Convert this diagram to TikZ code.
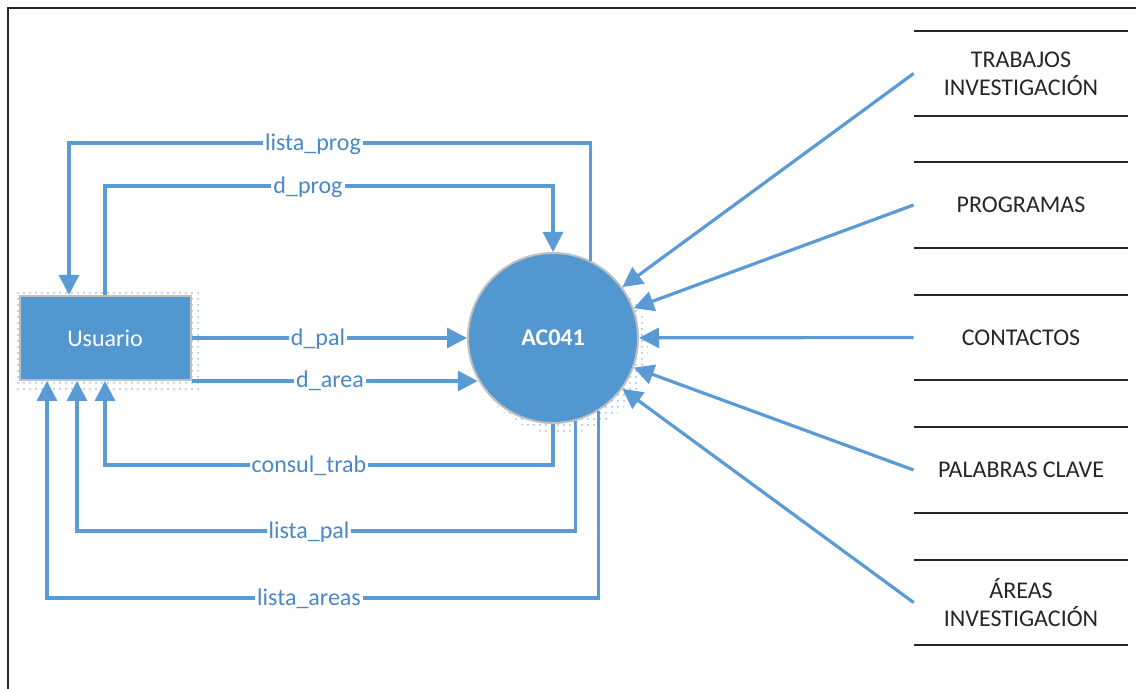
\documentclass[tikz,border=0pt]{standalone}
\usepackage{fontspec}
\setmainfont{Carlito}
\usepackage{tikz}
\usetikzlibrary{arrows.meta,positioning,calc,patterns,backgrounds}
\definecolor{flowblue}{HTML}{5B9BD5}
\definecolor{fillblue}{HTML}{5397D1}
\definecolor{labelblue}{HTML}{4A88C7}
\definecolor{rimgray}{HTML}{BFBFBF}
\definecolor{inkdark}{HTML}{262626}
\definecolor{dotshade}{HTML}{9DBBD6}

\begin{document}
\begin{tikzpicture}[x=0.5pt, y=-0.5pt,
    entity/.style={draw=rimgray, line width=1pt, fill=fillblue, minimum width=85.5pt, minimum height=42pt, font=\fontsize{12}{14}\selectfont, text=white},
    process/.style={circle, draw=rimgray, line width=1pt, fill=fillblue, minimum size=85pt, inner sep=0pt, font=\fontsize{12}{14}\selectfont\bfseries, text=white},
    store/.style={minimum width=107pt, minimum height=42.5pt, inner sep=0pt, align=center, font=\fontsize{12}{14}\selectfont, text=inkdark},
    storeline/.style={draw=inkdark, line width=1pt},
    flow/.style={-{Triangle[length=10pt, width=10pt]}, draw=flowblue, line width=1.6pt},
    lbl/.style={fill=white, inner sep=1pt, font=\fontsize{12}{14}\selectfont, text=labelblue}
]
\useasboundingbox (0,0) rectangle (1136,689);

% frame
\draw[inkdark, line width=0.8pt] (8,689) -- (8,8) -- (1136,8);

% dotted shadows
\fill[pattern=dots, pattern color=dotshade] (15,292) rectangle (203,393);
\fill[pattern=dots, pattern color=dotshade] (561,347) circle (87);

\node[entity] (usr) at (105,338) {Usuario};
\node[process] (proc) at (553,338) {AC041};

\node[store] (trab) at (1021,73.5) {TRABAJOS\\INVESTIGACIÓN};
\node[store] (prog) at (1021,205) {PROGRAMAS};
\node[store] (cont) at (1021,337.5) {CONTACTOS};
\node[store] (pal) at (1021,470) {PALABRAS CLAVE};
\node[store] (area) at (1021,602.5) {ÁREAS\\INVESTIGACIÓN};

\foreach \s in {trab,prog,cont,pal,area}
    \draw[storeline] (\s.north west) -- (\s.north east) (\s.south west) -- (\s.south east);

% stores to process
\foreach \s in {trab,prog,cont,pal,area}
    \draw[flow] (\s.west) -- (proc);

% user <-> process
\coordinate (lp) at (69,143);
\coordinate (dp) at (553,186);
\coordinate (ct) at (105,465);
\coordinate (lpal) at (77,531);
\coordinate (la) at (47,598);

\draw[flow] (proc.64) |- (lp) -- (lp |- usr.north);
\draw[flow] (usr.north) |- (dp) -- (proc.north);
\draw[flow] (usr.east) -- (proc.west);
\draw[flow] (usr.south east) -- (proc.209.6 |- usr.south east);
\draw[flow] (proc.south) |- (ct) -- (usr.south);
\draw[flow] (proc.285.7) |- (lpal) -- (lpal |- usr.south);
\draw[flow] (proc.302.8) |- (la) -- (la |- usr.south);

\node[lbl] (n1) at (313,144) {lista\_prog};
\node[lbl] (n2) at (308,187) {d\_prog};
\node[lbl] (n3) at (318,339) {d\_pal};
\node[lbl] (n4) at (330,381) {d\_area};
\node[lbl] (n5) at (309,466) {consul\_trab};
\node[lbl] (n6) at (309,532) {lista\_pal};
\node[lbl] (n7) at (309,599) {lista\_areas};

\end{tikzpicture}
\end{document}
